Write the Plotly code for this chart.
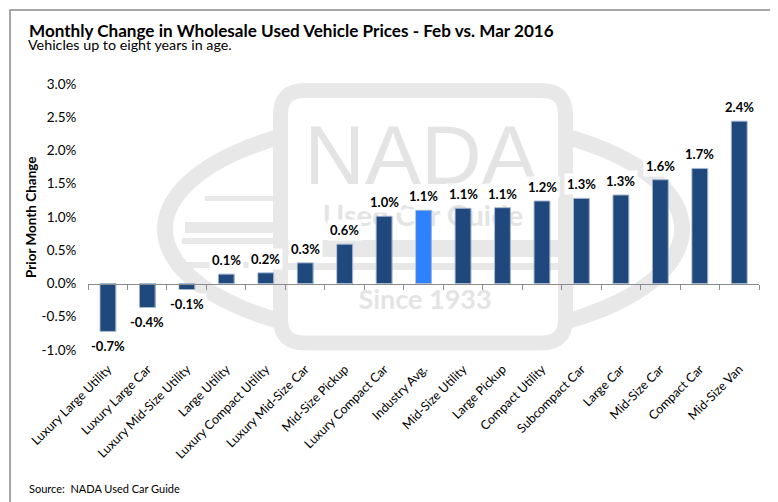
import plotly.graph_objects as go

# ---------------- data ----------------
categories = [
    "Luxury Large Utility", "Luxury Large Car", "Luxury Mid-Size Utility", "Large Utility",
    "Luxury Compact Utility", "Luxury Mid-Size Car", "Mid-Size Pickup", "Luxury Compact Car",
    "Industry Avg.", "Mid-Size Utility", "Large Pickup", "Compact Utility", "Subcompact Car",
    "Large Car", "Mid-Size Car", "Compact Car", "Mid-Size Van",
]
change_pct = [-0.72, -0.36, -0.09, 0.14, 0.16, 0.31, 0.59, 1.01, 1.10, 1.13, 1.14,
              1.24, 1.28, 1.33, 1.56, 1.73, 2.44]
highlight = "Industry Avg."
y_tickvals = [-1.0, -0.5, 0.0, 0.5, 1.0, 1.5, 2.0, 2.5, 3.0]
y_ticktext = ["-1.0%", "-0.5%", "0.0%", "0.5%", "1.0%", "1.5%", "2.0%", "2.5%", "3.0%"]

title_text = "Monthly Change in Wholesale Used Vehicle Prices - Feb vs. Mar 2016"
subtitle_text = "Vehicles up to eight years in age."
source_text = "Source:  NADA Used Car Guide"
y_title = "Prior Month Change"

# ---------------- layout geometry ----------------
OFF = 8                      # page body margin
W, H = 770, 494
L, R, T, B = 80, 19, 76, 152
PW, PH = W - L - R, H - T - B
FONT = "Lato"
DARK = "#1f497d"
BRIGHT = "#2e82ff"
WM = "#e8e8e8"


def fx(px):
    return (px - OFF - L) / PW


def fy(py):
    return (H - B - (py - OFF)) / PH


def rounded_rect(x0, y0, x1, y1, r):
    rx, ry = r / PW, r / PH
    a0, a1 = fx(x0), fx(x1)
    b0, b1 = fy(y0), fy(y1)  # b0 top, b1 bottom
    return (f"M {a0 + rx} {b0} L {a1 - rx} {b0} Q {a1} {b0} {a1} {b0 - ry} "
            f"L {a1} {b1 + ry} Q {a1} {b1} {a1 - rx} {b1} "
            f"L {a0 + rx} {b1} Q {a0} {b1} {a0} {b1 + ry} "
            f"L {a0} {b0 - ry} Q {a0} {b0} {a0 + rx} {b0} Z")


bar_colors = [BRIGHT if c == highlight else DARK for c in categories]

fig = go.Figure()

# watermark text on the base (lowest) subplot
wm_texts = [("NADA", 421, 163, 84, "Liberation Sans", "normal"),
            ("Used Car Guide", 423, 219, 29, FONT, "bold"),
            ("Since 1933", 425, 302, 27, FONT, "bold")]
for t, px, py, size, fam, wt in wm_texts:
    fig.add_trace(go.Scatter(
        x=[fx(px)], y=[fy(py)], mode="text", text=[t],
        textfont=dict(family=fam, size=size, color="#e4e4e4", weight=wt),
        xaxis="x", yaxis="y", hoverinfo="skip", showlegend=False, cliponaxis=False,
    ))

# data bars
fig.add_trace(go.Bar(
    x=categories, y=change_pct, xaxis="x2", yaxis="y2",
    marker=dict(color=bar_colors, line=dict(color="#4a6a98", width=0.6)),
    width=0.4, showlegend=False,
))
# invisible companion trace that carries the zero-line category axis with ticks
fig.add_trace(go.Bar(
    x=categories, y=change_pct, xaxis="x3", yaxis="y2",
    marker=dict(color="rgba(0,0,0,0)"), width=0.4, showlegend=False, hoverinfo="skip",
))

# data labels
annotations = []
for c, v in zip(categories, change_pct):
    annotations.append(dict(
        x=c, y=v, xref="x2", yref="y2", text=f"<b>{v:.1f}%</b>", showarrow=False,
        yanchor="middle", yshift=14 if v >= 0 else -15,
        font=dict(family=FONT, size=13, color="#000000"),
        bgcolor="#ffffff", borderpad=2,
    ))

annotations += [
    dict(x=fx(27), y=fy(30), xref="paper", yref="paper", xanchor="left", yanchor="middle",
         text=f"<b>{title_text}</b>", showarrow=False,
         font=dict(family=FONT, size=17.1, color="#000000")),
    dict(x=fx(26), y=fy(45), xref="paper", yref="paper", xanchor="left", yanchor="middle",
         text=subtitle_text, showarrow=False, font=dict(family=FONT, size=14.3, color="#000000")),
    dict(x=fx(27), y=fy(488), xref="paper", yref="paper", xanchor="left", yanchor="middle",
         text=source_text, showarrow=False, font=dict(family=FONT, size=11, color="#000000")),
    dict(x=fx(31), y=0.5, xref="paper", yref="paper", xanchor="center", yanchor="middle",
         text=f"<b>{y_title}</b>", textangle=-90, showarrow=False,
         font=dict(family=FONT, size=13.5, color="#000000")),
]

shapes = [
    # outer frame
    dict(type="rect", xref="paper", yref="paper", x0=fx(10), x1=fx(773), y0=fy(530), y1=fy(10),
         line=dict(color="#8a8a8a", width=1.5), fillcolor="rgba(0,0,0,0)", layer="above"),
    # watermark ellipse ring
    dict(type="circle", xref="paper", yref="paper", x0=fx(165), x1=fx(682), y0=fy(340), y1=fy(118),
         line=dict(color=WM, width=16), layer="below"),
]
# speed stripes on the left side
for y0p, y1p, xa in [(196, 201, 205), (222, 233, 185), (238, 244, 182), (262, 268, 178)]:
    shapes.append(dict(type="rect", xref="paper", yref="paper", x0=fx(xa), x1=fx(275),
                       y0=fy(y1p), y1=fy(y0p), line=dict(width=0), fillcolor=WM, layer="below"))
# rounded rectangle badge
shapes.append(dict(type="path", xref="paper", yref="paper",
                   path=rounded_rect(280.5, 90.5, 565.5, 343, 24),
                   line=dict(color=WM, width=15), fillcolor="#ffffff", layer="below"))
for y0p, y1p in [(240, 257), (263, 270)]:
    shapes.append(dict(type="rect", xref="paper", yref="paper", x0=fx(288), x1=fx(558),
                       y0=fy(y1p), y1=fy(y0p), line=dict(width=0), fillcolor=WM, layer="below"))

fig.update_layout(
    width=W, height=H,
    margin=dict(l=L, r=R, t=T, b=B, pad=0),
    paper_bgcolor="#ffffff", plot_bgcolor="rgba(0,0,0,0)",
    font=dict(family=FONT, color="#000000"),
    bargap=0.6,
    showlegend=False,
    xaxis=dict(range=[0, 1], visible=False, fixedrange=True),
    yaxis=dict(range=[0, 1], visible=False, fixedrange=True),
    xaxis2=dict(overlaying="x", anchor="y2", type="category", showline=False, ticks="outside",
                ticklen=6, tickcolor="rgba(0,0,0,0)", tickangle=-45, showgrid=False,
                zeroline=False, tickfont=dict(family=FONT, size=12.5, color="#000000")),
    xaxis3=dict(overlaying="x", anchor="free", position=0.25, type="category",
                showline=True, linecolor="#8c8c8c", linewidth=1, ticks="outside",
                tickson="boundaries", ticklen=5, tickcolor="#8c8c8c", showticklabels=False,
                showgrid=False, zeroline=False),
    yaxis2=dict(overlaying="y", anchor="x2", side="left", range=[-1, 3], tickvals=y_tickvals,
                ticktext=y_ticktext, showgrid=False, zeroline=False, showline=False,
                ticks="outside", ticklen=8, tickcolor="rgba(0,0,0,0)",
                tickfont=dict(family=FONT, size=13.5, color="#000000")),
    annotations=annotations,
    shapes=shapes,
)

fig.write_html("out.html")
